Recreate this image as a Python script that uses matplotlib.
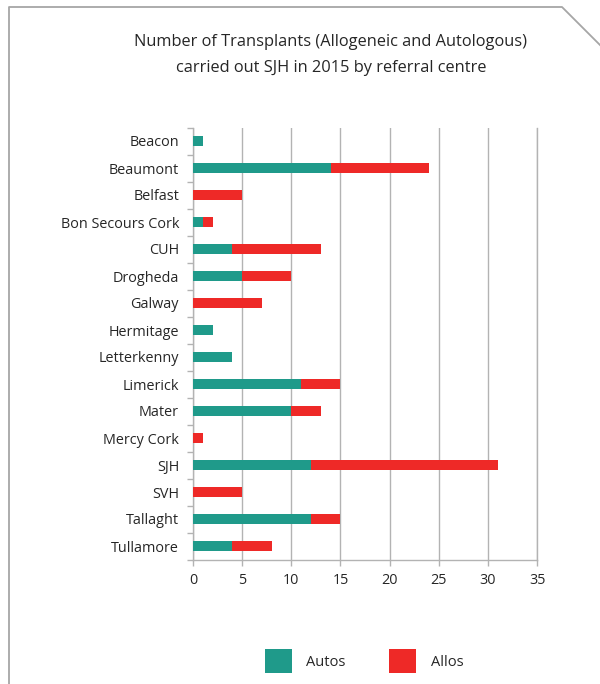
import matplotlib

matplotlib.use("Agg")
import matplotlib.pyplot as plt
import numpy as np
from matplotlib.lines import Line2D
from matplotlib.patches import Patch

plt.rcParams["font.family"] = ["Open Sans", "DejaVu Sans"]

centres = [
    "Beacon", "Beaumont", "Belfast", "Bon Secours Cork", "CUH", "Drogheda",
    "Galway", "Hermitage", "Letterkenny", "Limerick", "Mater", "Mercy Cork",
    "SJH", "SVH", "Tallaght", "Tullamore",
]
autos = [1, 14, 0, 1, 4, 5, 0, 2, 4, 11, 10, 0, 12, 0, 12, 4]
allos = [0, 10, 5, 1, 9, 5, 7, 0, 0, 4, 3, 1, 19, 5, 3, 4]
xticks = [0, 5, 10, 15, 20, 25, 30, 35]

TEAL = "#1f9a8a"
RED = "#ee2927"
GRID = "#b3b3b3"
TXT = "#262626"

W, H = 600, 684
fig = plt.figure(figsize=(W / 100, H / 100), dpi=100)

# page frame with the cut corner
fx = np.array([9, 9, 562, 600]) / W
fy = 1 - np.array([684, 7, 7, 45]) / H
fig.add_artist(Line2D(fx, fy, color="#a6a6a6", lw=1.3, transform=fig.transFigure))

ax = fig.add_axes([193 / W, 1 - 559.5 / H, 344 / W, 432 / H])
y = np.arange(len(centres))
ax.barh(y, autos, height=0.4, color=TEAL, zorder=3)
ax.barh(y, allos, left=autos, height=0.4, color=RED, zorder=3)

ax.set_xlim(0, 35)
ax.set_ylim(len(centres) - 0.5, -0.5)
ax.set_xticks(xticks)
ax.set_xticklabels([str(t) for t in xticks])
ax.set_yticks(y)
ax.set_yticklabels(centres)
ax.set_yticks(np.arange(len(centres) + 1) - 0.5, minor=True)
ax.tick_params(axis="y", which="major", length=0, pad=10, labelsize=10.4, labelcolor=TXT)
ax.tick_params(axis="y", which="minor", length=4, color=GRID, width=1)
ax.tick_params(axis="x", length=4, color=GRID, width=1, pad=6, labelsize=10.4, labelcolor=TXT)
ax.grid(axis="x", color=GRID, lw=1, zorder=0)
ax.spines["top"].set_visible(False)
for s in ["left", "bottom", "right"]:
    ax.spines[s].set_color(GRID)
    ax.spines[s].set_linewidth(1)

fig.text(331 / W, 1 - 42 / H, "Number of Transplants (Allogeneic and Autologous)",
         ha="center", va="center", fontsize=11.8, color=TXT)
fig.text(331 / W, 1 - 68 / H, "carried out SJH in 2015 by referral centre",
         ha="center", va="center", fontsize=11.8, color=TXT)

handles = [Patch(facecolor=TEAL, label="Autos"), Patch(facecolor=RED, label="Allos")]
fig.legend(handles=handles, loc="center", bbox_to_anchor=(364 / W, 1 - 661 / H),
           ncol=2, frameon=False, fontsize=10.5, handlelength=1.85, handleheight=2.05,
           handletextpad=1.0, columnspacing=3.0, labelcolor=TXT)

fig.savefig("out.png", dpi=100)
